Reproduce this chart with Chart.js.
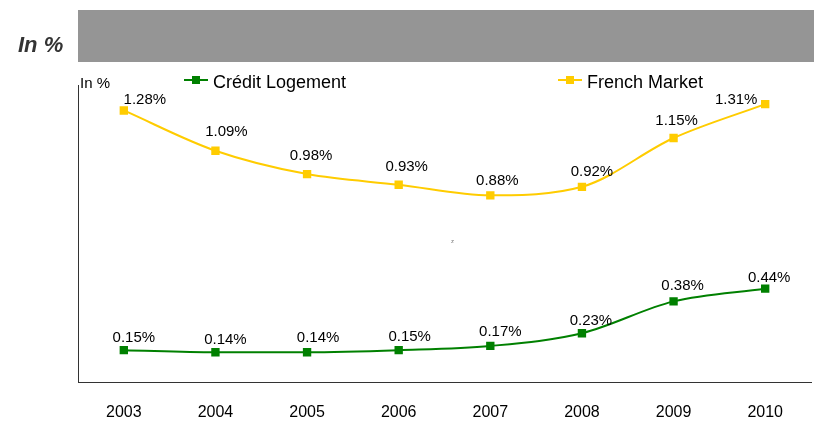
<!DOCTYPE html>
<html><head><meta charset="utf-8">
<script src="https://cdn.jsdelivr.net/npm/chart.js@4/dist/chart.umd.min.js"></script>
<style>html,body{margin:0;padding:0;background:#fff}#wrap{position:relative;width:814px;height:421px}</style>
</head><body><div id="wrap"><canvas id="c" width="814" height="421"></canvas></div>
<script>
const years = ['2003','2004','2005','2006','2007','2008','2009','2010'];
const creditLogement = [0.15, 0.14, 0.14, 0.15, 0.17, 0.23, 0.38, 0.44];
const frenchMarket = [1.28, 1.09, 0.98, 0.93, 0.88, 0.92, 1.15, 1.31];
const seriesNames = ['Crédit Logement', 'French Market'];
// label offsets (style only)
const clLabelDx = [10, 10, 11, 11, 10, 9, 9, 4];
const clLabelDy = [-12, -12, -14, -13, -14, -12, -16, -11];
const fmLabelDx = [21, 11, 4, 8, 7, 10, 3, -29];
const fmLabelDy = [-11, -19, -18, -18, -14, -15, -17, -4];

const FONT = '"Liberation Sans", Arial, sans-serif';
const GREEN = '#008000', YELLOW = '#FFCC00';

const decor = {
  id: 'decor',
  beforeDraw(chart) {
    const ctx = chart.ctx;
    ctx.save();
    ctx.fillStyle = '#959595';
    ctx.fillRect(78, 10, 736, 52);
    ctx.fillStyle = '#333333';
    ctx.font = 'bold italic 22px ' + FONT;
    ctx.textBaseline = 'alphabetic';
    ctx.textAlign = 'left';
    ctx.fillText('In %', 18, 52);
    ctx.fillStyle = '#000';
    ctx.font = '15px ' + FONT;
    ctx.fillText('In %', 80, 88);
    // legend
    const items = [[184, GREEN, seriesNames[0]], [558, YELLOW, seriesNames[1]]];
    items.forEach(([x, col, name]) => {
      ctx.strokeStyle = col; ctx.lineWidth = 2;
      ctx.beginPath(); ctx.moveTo(x, 80); ctx.lineTo(x + 24, 80); ctx.stroke();
      ctx.fillStyle = col; ctx.fillRect(x + 8, 76, 8, 8);
      ctx.fillStyle = '#000'; ctx.font = '18px ' + FONT;
      ctx.fillText(name, x + 29, 88);
    });
    ctx.fillStyle = '#777'; ctx.font = '6px ' + FONT;
    ctx.fillText('z', 451, 243);
    ctx.restore();
  },
  afterDatasetsDraw(chart) {
    const ctx = chart.ctx;
    ctx.save();
    ctx.fillStyle = '#000';
    ctx.font = '15px ' + FONT;
    ctx.textAlign = 'center';
    ctx.textBaseline = 'middle';
    const offs = [[clLabelDx, clLabelDy], [fmLabelDx, fmLabelDy]];
    chart.data.datasets.forEach((ds, i) => {
      const meta = chart.getDatasetMeta(i);
      meta.data.forEach((pt, j) => {
        ctx.fillText(ds.data[j].toFixed(2) + '%', pt.x + offs[i][0][j], pt.y + offs[i][1][j]);
      });
    });
    ctx.restore();
  }
};

new Chart(document.getElementById('c'), {
  type: 'line',
  data: {
    labels: years,
    datasets: [
      { label: seriesNames[0], data: creditLogement, borderColor: GREEN, backgroundColor: GREEN,
        borderWidth: 2, pointStyle: 'rect', pointRadius: 4.5, cubicInterpolationMode: 'monotone' },
      { label: seriesNames[1], data: frenchMarket, borderColor: YELLOW, backgroundColor: YELLOW,
        borderWidth: 2, pointStyle: 'rect', pointRadius: 4.5, cubicInterpolationMode: 'monotone' }
    ]
  },
  options: {
    responsive: false, animation: false,
    layout: { autoPadding: false, padding: { left: 78, right: 3, top: 85, bottom: 0 } },
    plugins: { legend: { display: false }, tooltip: { enabled: false } },
    scales: {
      x: { offset: true, grid: { display: false, drawTicks: false },
           border: { color: '#333333', width: 1 },
           ticks: { color: '#000', font: { family: FONT, size: 16 }, padding: 21 },
           afterFit(s) { s.height = 39; } },
      y: { min: 0, max: 1.4, grid: { display: false, drawTicks: false },
           border: { color: '#333333', width: 1 },
           ticks: { display: false },
           afterFit(s) { s.width = 0; } }
    }
  },
  plugins: [decor]
});
</script></body></html>
